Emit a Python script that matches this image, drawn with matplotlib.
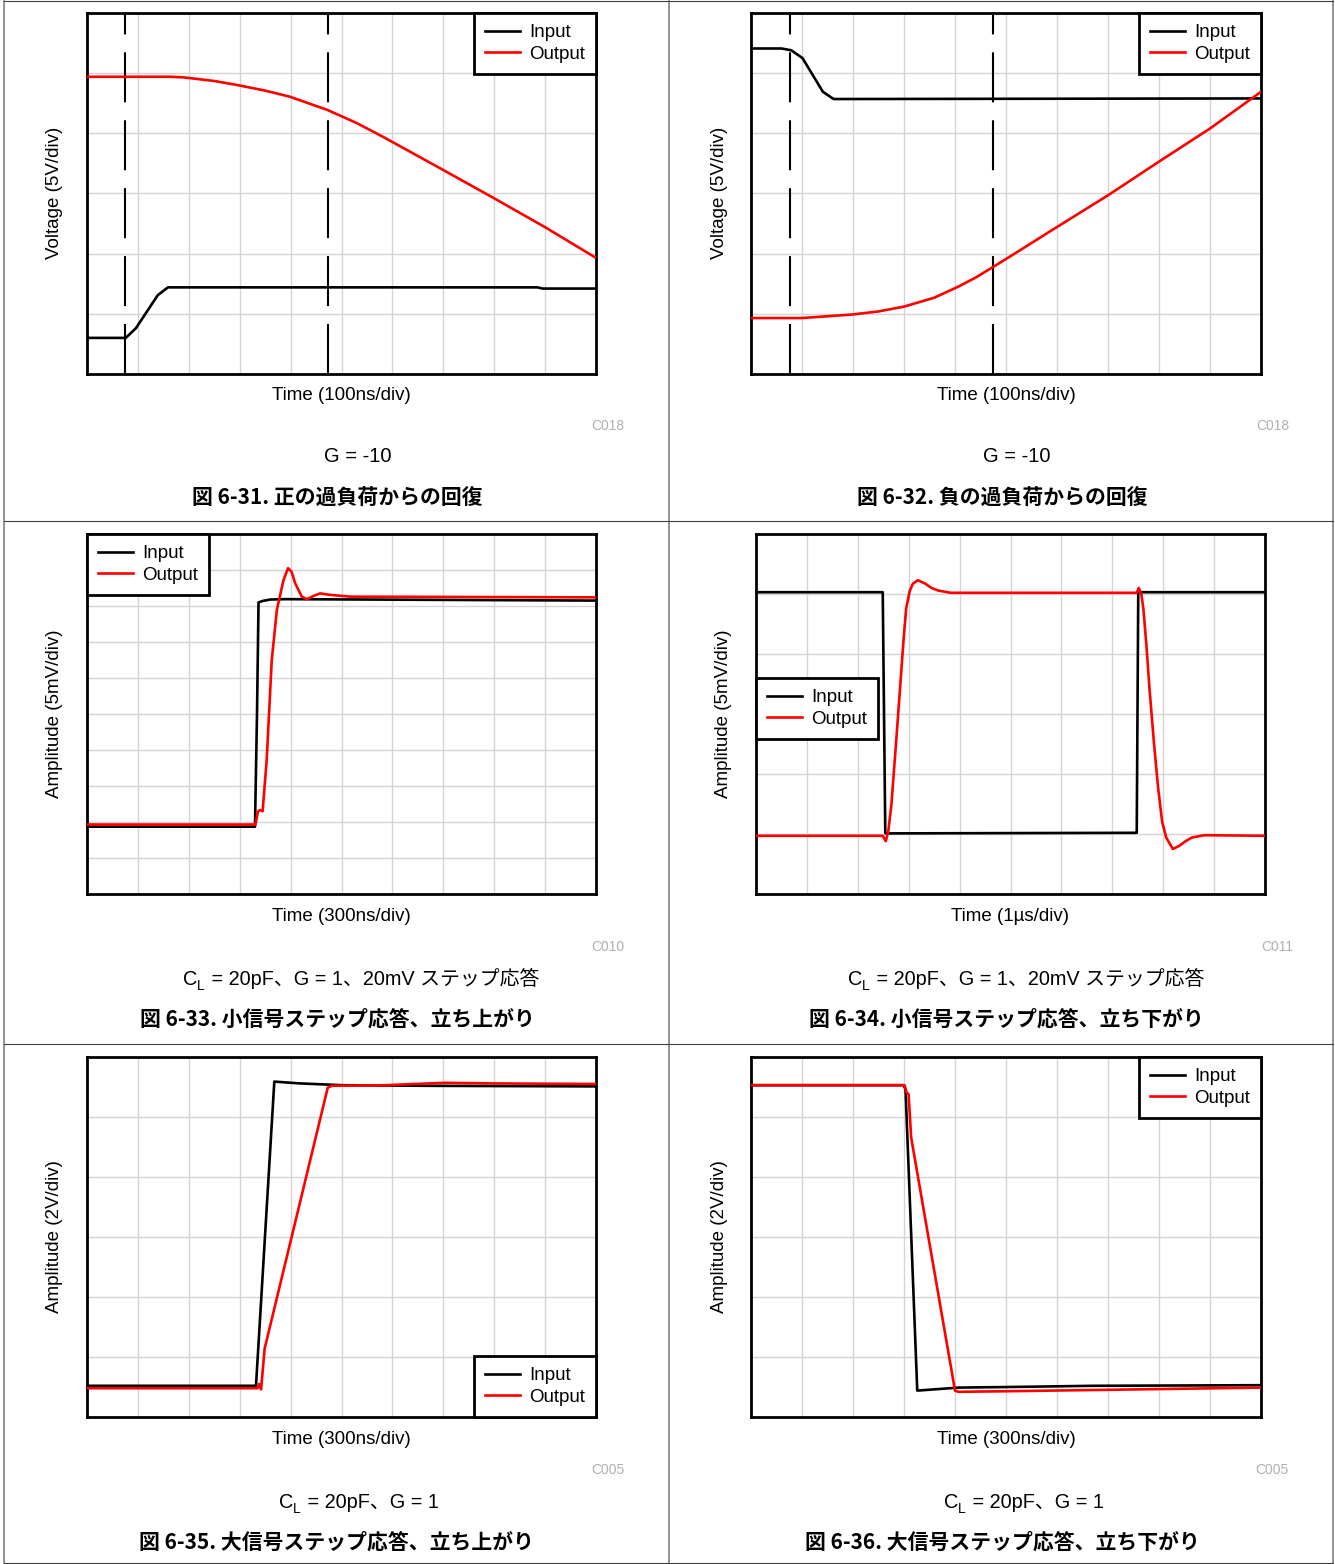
import numpy as np
import matplotlib
matplotlib.use('Agg')
import matplotlib.pyplot as plt
from matplotlib.lines import Line2D

plt.rcParams['font.family'] = ['Liberation Sans', 'Noto Sans CJK JP', 'DejaVu Sans']
plt.rcParams['legend.fancybox'] = False

# data, in scope divisions (x: 0..10, y: 0..ny from bottom)
p1_dash_x = [0.75, 4.73]
p1_in_t = [0, 0.76, 0.96, 1.39, 1.59, 8.85, 8.95, 10]
p1_in_v = [0.6, 0.6, 0.76, 1.31, 1.44, 1.44, 1.42, 1.42]
p1_out_t = [0, 1.63, 1.9, 2.5, 2.97, 3.5, 3.98, 4.72, 5.3, 5.82, 6.4, 7.0, 8.0, 9.0, 10]
p1_out_v = [4.94, 4.94, 4.93, 4.87, 4.80, 4.71, 4.61, 4.39, 4.17, 3.94, 3.67, 3.39, 2.92, 2.44, 1.93]

p2_dash_x = [0.76, 4.75]
p2_in_t = [0, 0.6, 0.79, 1.01, 1.41, 1.62, 10]
p2_in_v = [5.41, 5.41, 5.38, 5.25, 4.69, 4.57, 4.58]
p2_out_t = [0, 1.0, 2.0, 2.5, 3.0, 3.6, 4.06, 4.4, 4.75, 5.3, 5.9, 7.0, 8.0, 9.0, 10]
p2_out_v = [0.93, 0.93, 0.99, 1.04, 1.12, 1.27, 1.45, 1.6, 1.78, 2.07, 2.39, 2.97, 3.53, 4.08, 4.69]

p3_in_t = [0, 3.30, 3.34, 3.37, 3.45, 3.6, 3.9, 10]
p3_in_v = [1.87, 1.87, 5.0, 8.10, 8.14, 8.18, 8.19, 8.15]
p3_out_t = [0, 3.31, 3.36, 3.40, 3.45, 3.53, 3.63, 3.73, 3.86, 3.95, 4.02, 4.09, 4.22, 4.32,
            4.45, 4.58, 4.77, 5.17, 10]
p3_out_v = [1.93, 1.93, 2.3, 2.33, 2.3, 3.72, 6.5, 7.89, 8.72, 9.05, 8.95, 8.63, 8.26, 8.19,
            8.28, 8.35, 8.31, 8.26, 8.24]

p4_in_t = [0, 2.49, 2.54, 7.48, 7.51, 10]
p4_in_v = [5.03, 5.03, 1.01, 1.02, 5.03, 5.03]
p4_out_t = [0, 2.49, 2.55, 2.60, 2.66, 2.75, 2.83, 2.90, 2.95, 3.02, 3.08, 3.18, 3.33, 3.45,
            3.57, 3.82, 7.48, 7.52, 7.57, 7.61, 7.67, 7.73, 7.82, 7.90, 7.98, 8.06, 8.19,
            8.31, 8.44, 8.56, 8.81, 10]
p4_out_v = [0.97, 0.97, 0.88, 1.05, 1.49, 2.5, 3.43, 4.25, 4.76, 5.05, 5.17, 5.23, 5.17, 5.1,
            5.06, 5.02, 5.02, 5.10, 5.0, 4.76, 4.15, 3.43, 2.5, 1.77, 1.2, 0.94, 0.75,
            0.80, 0.88, 0.94, 0.98, 0.97]

p5_in_t = [0, 3.32, 3.68, 4.18, 5.02, 6.69, 10]
p5_in_v = [0.52, 0.52, 5.59, 5.56, 5.53, 5.52, 5.51]
p5_out_t = [0, 3.35, 3.38, 3.42, 3.49, 4.73, 4.81, 5.86, 7.03, 7.95, 10]
p5_out_v = [0.48, 0.48, 0.55, 0.46, 1.14, 5.49, 5.52, 5.53, 5.57, 5.56, 5.55]

p6_in_t = [0, 2.99, 3.03, 3.26, 4.07, 5.06, 6.72, 10]
p6_in_v = [5.53, 5.53, 5.46, 0.44, 0.49, 0.50, 0.52, 0.53]
p6_out_t = [0, 3.01, 3.05, 3.09, 3.14, 4.0, 4.07, 5.06, 6.72, 10]
p6_out_v = [5.53, 5.53, 5.41, 5.38, 4.66, 0.44, 0.42, 0.43, 0.45, 0.49]

W, H = 1335, 1564
fig = plt.figure(figsize=(W / 100, H / 100), dpi=100)
renderer = fig.canvas.get_renderer()


def add_ax(x0, y0, x1, y1, ny):
    ax = fig.add_axes([x0 / W, 1 - y1 / H, (x1 - x0) / W, (y1 - y0) / H])
    ax.set_xlim(0, 10)
    ax.set_ylim(0, ny)
    ax.set_xticks(np.arange(1, 10))
    ax.set_yticks(np.arange(1, ny))
    ax.tick_params(length=0, labelbottom=False, labelleft=False)
    ax.grid(True, color='#d4d4d4', lw=1.0)
    for sp in ax.spines.values():
        sp.set_linewidth(2.0)
        sp.set_color('black')
    return ax


def ftext(x, y, s, **kw):
    kw.setdefault('ha', 'center')
    kw.setdefault('va', 'center')
    return fig.text(x / W, 1 - y / H, s, **kw)


def traces(ax, t_in, v_in, t_out, v_out, **legkw):
    ax.plot(t_in, v_in, color='black', lw=1.9, label='Input', zorder=3)
    ax.plot(t_out, v_out, color='#ff0000', lw=1.9, label='Output', zorder=4)
    leg = ax.legend(fontsize=13.5, handlelength=1.85, handletextpad=0.5, borderpad=0.6,
                    labelspacing=0.22, borderaxespad=0, framealpha=1, **legkw)
    leg.get_frame().set_edgecolor('black')
    leg.get_frame().set_linewidth(2.0)
    leg.set_zorder(10)


def dashes(ax, xs, ny):
    for x in xs:
        ln, = ax.plot([x, x], [0, ny], color='black', lw=1.5, zorder=2)
        ln.set_dashes((24, 8.6))


def cl_text(x0, ybase, rest):
    # "C" with subscript "L", then the rest of the condition line, all on one baseline
    t1 = ftext(x0, ybase, 'C', fontsize=14.3, ha='left', va='baseline')
    bb = t1.get_window_extent(renderer)
    t2 = ftext(bb.x1 * W / fig.bbox.width, ybase + 5, 'L', fontsize=10, ha='left', va='baseline')
    bb2 = t2.get_window_extent(renderer)
    ftext(bb2.x1 + 1, ybase, rest, fontsize=14.3, ha='left', va='baseline')


def captions(cx, yt, time_lbl, code, title):
    ftext(cx + 254, yt, time_lbl, fontsize=13.5)
    ftext(cx + 537, yt + 30, code, fontsize=10, color='#b0b0b0', ha='right')
    ftext(cx + 250, yt + 102, title, fontsize=15, fontweight='bold',
          family=['Noto Sans CJK JP', 'DejaVu Sans'])


# panel 1
ax1 = add_ax(87, 13, 596, 374, 6)
dashes(ax1, p1_dash_x, 6)
traces(ax1, p1_in_t, p1_in_v, p1_out_t, p1_out_v, loc='upper right')
ftext(55, 193, 'Voltage (5V/div)', fontsize=13.5, rotation=90)
captions(87, 396, 'Time (100ns/div)', 'C018', '図 6-31. 正の過負荷からの回復')
ftext(358, 457, 'G = -10', fontsize=14.5)

# panel 2
ax2 = add_ax(751, 13, 1261, 374, 6)
dashes(ax2, p2_dash_x, 6)
traces(ax2, p2_in_t, p2_in_v, p2_out_t, p2_out_v, loc='upper right')
ftext(720, 193, 'Voltage (5V/div)', fontsize=13.5, rotation=90)
captions(752, 396, 'Time (100ns/div)', 'C018', '図 6-32. 負の過負荷からの回復')
ftext(1017, 457, 'G = -10', fontsize=14.5)

# panel 3
ax3 = add_ax(87, 534, 596, 894, 10)
traces(ax3, p3_in_t, p3_in_v, p3_out_t, p3_out_v, loc='upper left')
ftext(55, 714, 'Amplitude (5mV/div)', fontsize=13.5, rotation=90)
captions(87, 917, 'Time (300ns/div)', 'C010', '図 6-33. 小信号ステップ応答、立ち上がり')
cl_text(183, 985, ' = 20pF、G = 1、20mV ステップ応答')

# panel 4
ax4 = add_ax(756, 534, 1265, 894, 6)
traces(ax4, p4_in_t, p4_in_v, p4_out_t, p4_out_v, loc='upper left', bbox_to_anchor=(0, 0.6))
ftext(724, 714, 'Amplitude (5mV/div)', fontsize=13.5, rotation=90)
captions(756, 917, 'Time (1µs/div)', 'C011', '図 6-34. 小信号ステップ応答、立ち下がり')
cl_text(848, 985, ' = 20pF、G = 1、20mV ステップ応答')

# panel 5
ax5 = add_ax(87, 1057, 596, 1417, 6)
traces(ax5, p5_in_t, p5_in_v, p5_out_t, p5_out_v, loc='lower right')
ftext(55, 1237, 'Amplitude (2V/div)', fontsize=13.5, rotation=90)
captions(87, 1440, 'Time (300ns/div)', 'C005', '図 6-35. 大信号ステップ応答、立ち上がり')
cl_text(279, 1508, ' = 20pF、G = 1')

# panel 6
ax6 = add_ax(751, 1057, 1261, 1417, 6)
traces(ax6, p6_in_t, p6_in_v, p6_out_t, p6_out_v, loc='upper right')
ftext(720, 1237, 'Amplitude (2V/div)', fontsize=13.5, rotation=90)
captions(752, 1440, 'Time (300ns/div)', 'C005', '図 6-36. 大信号ステップ応答、立ち下がり')
cl_text(944, 1508, ' = 20pF、G = 1')

# table borders
for x in [4, 669, 1333]:
    fig.add_artist(Line2D([x / W, x / W], [1 - 1 / H, 1 - 1563 / H], color='#808080', lw=1.2,
                          transform=fig.transFigure))
for y in [1, 521, 1044, 1563]:
    fig.add_artist(Line2D([4 / W, 1333 / W], [1 - y / H, 1 - y / H], color='#404040', lw=0.8,
                          transform=fig.transFigure))

fig.savefig('out.png', dpi=100)
